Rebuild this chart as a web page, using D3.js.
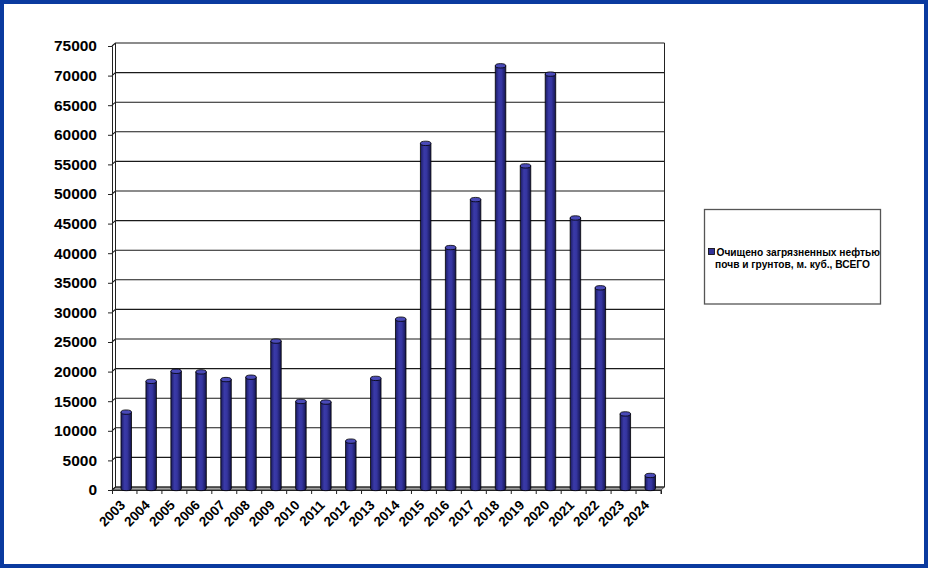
<!DOCTYPE html>
<html>
<head>
<meta charset="utf-8">
<script src="https://cdn.jsdelivr.net/npm/d3@7"></script>
<style>
body { margin: 0; background: #fff; }
svg { display: block; font-family: Arial, "Liberation Sans", sans-serif; }
</style>
</head>
<body>
<svg id="chart"></svg>
<script>
const years = ['2003', '2004', '2005', '2006', '2007', '2008', '2009', '2010', '2011', '2012', '2013',
	'2014', '2015', '2016', '2017', '2018', '2019', '2020', '2021', '2022', '2023', '2024'];
const cleaned = [12900, 18100, 19800, 19700, 18400, 18800, 24900, 14700, 14600, 8000, 18600,
	28600, 58300, 40700, 48800, 71400, 54500, 70000, 45700, 33900, 12600, 2200];
const yTicks = d3.range(0, 75001, 5000);
const legendLines = ['Очищено загрязненных нефтью', 'почв и грунтов, м. куб., ВСЕГО'];

function makeChart() {
	let w = 928;
	let h = 568;
	let chart = d3.select('#chart').attr('width', w).attr('height', h);

	// depth offset of the 3d box
	let dx = 3.5, dy = -3;
	let left = 112, right = 661, bottom = 490, top = 46;

	let x = d3.scaleBand().domain(years).range([left, right]);
	let y = d3.scaleLinear().domain([0, 75000]).range([bottom, top]);

	// frame
	chart.append('rect')
		.attr('x', 2).attr('y', 2)
		.attr('width', w - 4).attr('height', h - 4)
		.attr('fill', '#fff')
		.attr('stroke', '#0a3a9f')
		.attr('stroke-width', 4);

	let defs = chart.append('defs');
	let grad = defs.append('linearGradient').attr('id', 'cyl');
	grad.append('stop').attr('offset', '0%').attr('stop-color', '#1a1a60');
	grad.append('stop').attr('offset', '35%').attr('stop-color', '#3a3aa8');
	grad.append('stop').attr('offset', '60%').attr('stop-color', '#3535a0');
	grad.append('stop').attr('offset', '100%').attr('stop-color', '#141450');

	// floor
	chart.append('path')
		.attr('d', `M${left},${bottom} L${right},${bottom} L${right + dx},${bottom + dy} L${left + dx},${bottom + dy} Z`)
		.attr('fill', '#a0a0a0')
		.attr('stroke', '#333')
		.attr('stroke-width', 0.8);

	// gridlines on back wall and side wall
	chart.selectAll('.grid')
		.data(yTicks)
		.enter()
		.append('path')
		.attr('class', 'grid')
		.attr('d', d => `M${left},${y(d)} L${left + dx},${y(d) + dy} L${right + dx},${y(d) + dy}`)
		.attr('fill', 'none')
		.attr('stroke', '#1a1a1a')
		.attr('stroke-width', 1.1);

	// back wall right edge and side wall back edge
	chart.append('line')
		.attr('x1', right + dx).attr('y1', y(75000) + dy)
		.attr('x2', right + dx).attr('y2', bottom + dy)
		.attr('stroke', '#222');
	chart.append('line')
		.attr('x1', left + dx).attr('y1', y(75000) + dy)
		.attr('x2', left + dx).attr('y2', bottom + dy)
		.attr('stroke', '#222');

	// y axis
	let yAxis = d3.axisLeft(y).tickValues(yTicks).tickSize(4).tickPadding(11).tickFormat(d3.format('d'));
	let ya = chart.append('g').attr('transform', `translate(${left},0)`).call(yAxis);
	ya.select('.domain').attr('stroke', '#222');
	ya.selectAll('.tick line').attr('stroke', '#222');
	ya.selectAll('text')
		.attr('font-size', 15.5)
		.attr('font-weight', 'bold')
		.attr('fill', '#000');

	// x axis, ticks between categories
	let xAxis = d3.axisBottom(x).tickSize(4).tickFormat('');
	let xa = chart.append('g').attr('transform', `translate(0,${bottom})`).call(xAxis);
	xa.select('.domain').attr('stroke', '#222');
	xa.selectAll('.tick line')
		.attr('transform', `translate(${x.bandwidth() / 2},0)`)
		.attr('stroke', '#222');
	xa.append('line')
		.attr('x1', left + 0.5).attr('x2', left + 0.5)
		.attr('y1', 0).attr('y2', 4)
		.attr('stroke', '#222');

	chart.selectAll('.xlabel')
		.data(years)
		.enter()
		.append('text')
		.attr('class', 'xlabel')
		.attr('text-anchor', 'end')
		.attr('font-size', 13.5)
		.attr('font-weight', 'bold')
		.attr('transform', d => `translate(${x(d) + x.bandwidth() / 2 + 1.5},${bottom + 16}) rotate(-45)`)
		.text(d => d);

	// bars as cylinders
	let bw = 10.5;
	let ry = 2.2;
	let bars = chart.selectAll('.bar')
		.data(years.map((d, i) => ({ year: d, value: cleaned[i] })))
		.enter()
		.append('g')
		.attr('class', 'bar')
		.attr('transform', d => `translate(${x(d.year) + x.bandwidth() / 2 + dx / 2},${dy / 2})`);

	bars.append('path')
		.attr('d', d => {
			let yt = y(d.value), yb = y(0);
			return `M${-bw / 2},${yt} L${-bw / 2},${yb} A${bw / 2},${ry} 0 0 0 ${bw / 2},${yb} L${bw / 2},${yt} Z`;
		})
		.attr('fill', 'url(#cyl)')
		.attr('stroke', '#000')
		.attr('stroke-width', 0.8);

	bars.append('ellipse')
		.attr('cx', 0)
		.attr('cy', d => y(d.value))
		.attr('rx', bw / 2)
		.attr('ry', ry)
		.attr('fill', '#4a4ab8')
		.attr('stroke', '#000')
		.attr('stroke-width', 0.8);

	// legend
	let lg = chart.append('g');
	lg.append('rect')
		.attr('x', 704.5).attr('y', 209.5)
		.attr('width', 176).attr('height', 94.5)
		.attr('fill', '#fff')
		.attr('stroke', '#555')
		.attr('stroke-width', 1.3);
	lg.append('rect')
		.attr('x', 708.5).attr('y', 248.5)
		.attr('width', 6).attr('height', 6)
		.attr('fill', '#333399')
		.attr('stroke', '#000')
		.attr('stroke-width', 0.8);
	lg.selectAll('text')
		.data(legendLines)
		.enter()
		.append('text')
		.attr('x', (d, i) => i === 0 ? 716.5 : 792.5)
		.attr('y', (d, i) => 256 + i * 12)
		.attr('text-anchor', (d, i) => i === 0 ? 'start' : 'middle')
		.attr('font-size', 10.2)
		.attr('font-weight', 'bold')
		.text(d => d);
}

window.onload = function () {
	makeChart();
}
</script>
</body>
</html>
